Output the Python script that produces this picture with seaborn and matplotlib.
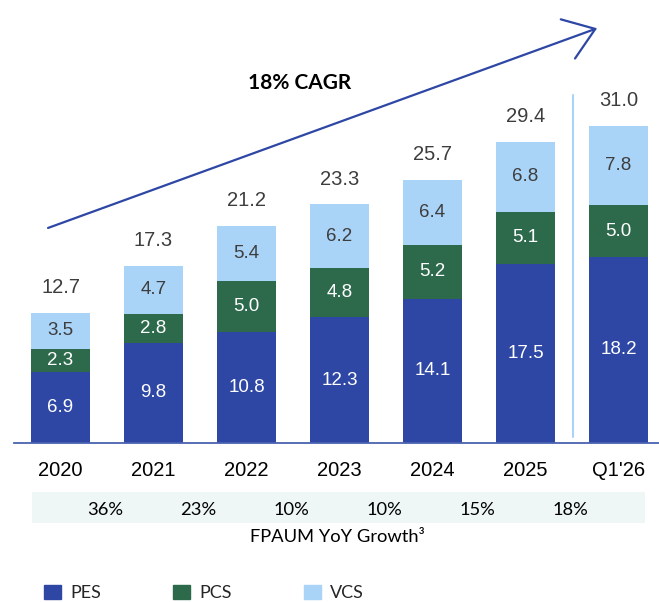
import matplotlib
matplotlib.use("Agg")
import matplotlib.pyplot as plt
import matplotlib.patches as mpatches
import pandas as pd
import seaborn as sns

# values
periods = ["2020", "2021", "2022", "2023", "2024", "2025", "Q1'26"]
pes = [6.9, 9.8, 10.8, 12.3, 14.1, 17.5, 18.2]
pcs = [2.3, 2.8, 5.0, 4.8, 5.2, 5.1, 5.0]
vcs = [3.5, 4.7, 5.4, 6.2, 6.4, 6.8, 7.8]
totals = [12.7, 17.3, 21.2, 23.3, 25.7, 29.4, 31.0]
growth = ["36%", "23%", "10%", "10%", "15%", "18%"]

c_pes = "#2e47a5"
c_pcs = "#2d6a4b"
c_vcs = "#a9d3f7"
c_txt = "#3d3d3d"

sns.set_style("white")
plt.rcParams["font.family"] = ["Liberation Sans", "DejaVu Sans"]

df = pd.DataFrame({"period": periods, "PES": pes, "PCS": pcs, "VCS": vcs})
df["PES_PCS"] = df["PES"] + df["PCS"]
df["ALL"] = df["PES_PCS"] + df["VCS"]

fig = plt.figure(figsize=(6.59, 6.02), dpi=100)
ax = fig.add_axes([14 / 659, 1 - 443 / 602, 1 - 14 / 659, 443 / 602])

# stacked bars by overlapping cumulative heights
bw = 0.635
for col, c in [("ALL", c_vcs), ("PES_PCS", c_pcs), ("PES", c_pes)]:
    sns.barplot(data=df, x="period", y=col, color=c, width=bw, ax=ax,
                saturation=1, linewidth=0, edgecolor="none")

ax.set_xlim(-0.5, (659 - 60.5) / 93)
ax.set_ylim(0, 443 / 10.24)
ax.set_xlabel("")
ax.set_ylabel("")
ax.set_xticks([])
ax.set_yticks([])
for s in ["top", "right", "left"]:
    ax.spines[s].set_visible(False)
ax.spines["bottom"].set_color("#4a62b0")
ax.spines["bottom"].set_linewidth(1.3)

# segment labels
for i in range(len(periods)):
    ax.text(i, pes[i] / 2, f"{pes[i]:.1f}", ha="center", va="center",
            color="white", fontsize=13.5)
    ax.text(i, pes[i] + pcs[i] / 2, f"{pcs[i]:.1f}", ha="center", va="center",
            color="white", fontsize=13.5)
    ax.text(i, pes[i] + pcs[i] + vcs[i] / 2, f"{vcs[i]:.1f}", ha="center",
            va="center", color=c_txt, fontsize=13.5)
    ax.text(i, totals[i] + 2.45, f"{totals[i]:.1f}", ha="center", va="center",
            color=c_txt, fontsize=14.5)
    ax.text(i, -2.64, periods[i], ha="center", va="center", color="black",
            fontsize=14.5, clip_on=False)

# divider before the quarter bar
ax.plot([5.51, 5.51], [0.6, 34.0], color=c_vcs, lw=1.5)

# CAGR arrow
ax.annotate("", xy=(5.77, 40.5), xytext=(-0.134, 21.0),
            arrowprops=dict(arrowstyle="->,head_length=2.1,head_width=1.5",
                            color=c_pes, lw=1.6, shrinkA=0, shrinkB=0,
                            mutation_scale=10))
ax.text((300 - 60.5) / 93, (443 - 83) / 10.24, "18% CAGR", ha="center",
        va="center", fontsize=15, fontweight="bold", family="Lato",
        color="black")

# growth band
band = mpatches.Rectangle(((32 - 60.5) / 93, -7.81), (645 - 32) / 93, 3.02,
                          facecolor="#eef6f6", edgecolor="none",
                          clip_on=False, zorder=0)
ax.add_patch(band)
for i, g in enumerate(growth):
    ax.text(i + 0.48, -6.54, g, ha="center", va="center", fontsize=13.2,
            family="Lato", color="black", clip_on=False)
ax.text((337 - 60.5) / 93, -9.18, "FPAUM YoY Growth³", ha="center",
        va="center", fontsize=13.2, family="Lato", color="black",
        clip_on=False)

# legend
handles = [mpatches.Patch(color=c_pes, label="PES"),
           mpatches.Patch(color=c_pcs, label="PCS"),
           mpatches.Patch(color=c_vcs, label="VCS")]
fig.legend(handles=handles, loc="lower left", bbox_to_anchor=(44 / 659, 1 / 602),
           ncol=3, frameon=False, borderpad=0, borderaxespad=0,
           handlelength=0.95, handleheight=0.8, handletextpad=0.5,
           columnspacing=4.0, prop={"family": "Lato", "size": 13})

fig.savefig("out.png", dpi=100)
